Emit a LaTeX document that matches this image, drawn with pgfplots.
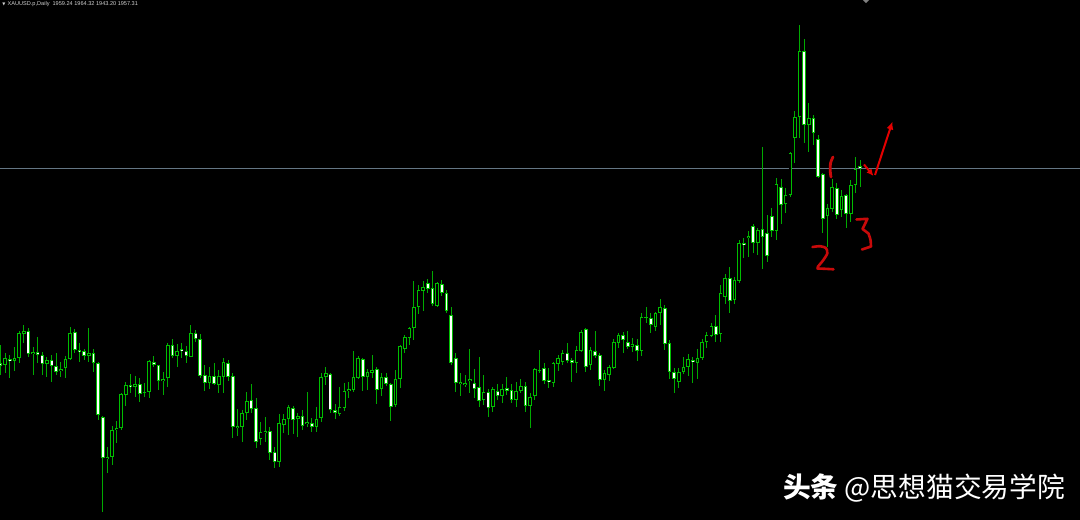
\documentclass[border=0pt]{standalone}
\usepackage{fontspec}
\usepackage{pgfplots}
\pgfplotsset{compat=1.18}
\usepackage{pgfplotstable}
\usetikzlibrary{arrows.meta}
\setmainfont{Liberation Sans}
\newfontfamily\cjk{Noto Sans CJK SC}
\newfontfamily\dejavu{DejaVu Sans}
\definecolor{wick}{RGB}{0,170,0}
\definecolor{edge}{RGB}{0,190,0}
\definecolor{bidline}{RGB}{100,118,132}
\definecolor{pen}{RGB}{200,10,10}
\definecolor{penb}{RGB}{228,0,0}
\definecolor{lbl}{RGB}{210,210,210}

% daily candles; values are screen rows (larger = lower price)
\pgfplotstableread{
i o h l c
0 363 345 375 366
1 365 353 373 358
2 359 355 378 361
3 361 347 371 358
4 358 331 363 333
5 334 325 343 331
6 331 328 357 354
7 354 347 375 352
8 352 337 363 355
9 355 352 375 364
10 364 357 377 360
11 360 355 382 366
12 366 353 375 372
13 371 362 377 369
14 368 356 378 359
15 359 327 360 333
16 332 329 353 350
17 350 343 362 352
18 351 349 360 356
19 356 328 362 353
20 353 349 372 363
21 363 362 420 415
22 417 416 512 458
23 459 447 473 457
24 457 426 465 430
25 430 421 443 428
26 428 393 430 394
27 395 382 406 385
28 385 374 393 387
29 387 376 397 384
30 384 378 402 394
31 393 383 397 392
32 392 360 398 361
33 362 356 367 365
34 365 365 390 381
35 381 372 395 379
36 378 343 387 345
37 345 339 358 356
38 356 344 367 351
39 349 343 358 351
40 351 346 363 356
41 357 325 357 333
42 333 330 342 339
43 339 334 378 376
44 375 365 391 383
45 383 367 389 376
46 376 363 385 384
47 385 370 393 376
48 377 358 393 362
49 363 360 381 377
50 376 373 438 427
51 428 409 436 426
52 427 410 442 413
53 413 392 420 401
54 400 384 413 409
55 408 398 448 442
56 439 422 445 432
57 433 417 442 431
58 431 427 460 453
59 452 447 468 462
60 462 414 467 423
61 425 414 433 419
62 419 405 435 407
63 408 406 434 420
64 419 413 437 416
65 416 410 430 426
66 424 392 427 422
67 423 418 432 427
68 427 407 432 419
69 418 373 422 377
70 377 367 385 373
71 374 373 413 410
72 410 404 419 413
73 414 387 416 407
74 408 383 411 391
75 391 382 398 389
76 390 351 392 377
77 378 356 379 358
78 359 358 391 377
79 377 369 390 372
80 373 355 378 370
81 369 367 404 390
82 389 373 396 377
83 377 373 386 384
84 384 383 421 407
85 405 370 407 379
86 379 345 388 346
87 349 335 353 337
88 338 327 345 328
89 328 281 340 307
90 307 285 314 290
91 291 281 311 287
92 283 279 293 289
93 288 271 306 304
94 306 282 307 283
95 284 280 296 293
96 293 290 313 311
97 315 307 365 363
98 358 353 392 383
99 384 373 396 382
100 385 375 387 383
101 381 349 393 379
102 383 369 398 389
103 387 357 407 401
104 400 375 405 392
105 392 389 417 408
106 407 387 412 389
107 391 384 400 396
108 396 384 403 389
109 388 377 395 391
110 390 384 403 400
111 400 382 407 391
112 391 379 393 386
113 386 382 412 406
114 406 393 428 397
115 396 368 400 369
116 371 350 373 370
117 368 363 384 381
118 380 368 388 382
119 383 362 387 363
120 364 355 371 358
121 362 350 365 353
122 353 343 363 361
123 360 358 382 363
124 363 346 373 350
125 351 330 352 332
126 329 328 372 367
127 365 347 370 350
128 351 331 358 356
129 355 353 386 380
130 380 370 391 373
131 375 365 381 367
132 368 339 369 342
133 343 333 348 335
134 335 332 353 340
135 342 331 349 347
136 347 338 352 344
137 345 339 361 351
138 351 313 356 317
139 318 307 323 317
140 318 313 333 325
141 327 312 331 313
142 313 299 325 307
143 308 305 350 344
144 343 340 379 372
145 372 368 393 379
146 382 368 388 372
147 372 357 374 367
148 367 354 376 359
149 360 357 383 362
150 363 349 379 358
151 358 339 360 342
152 342 332 348 335
153 336 323 337 326
154 326 315 342 335
155 334 285 342 293
156 297 274 304 278
157 278 267 313 301
158 300 277 304 280
159 281 240 283 243
160 243 238 258 245
161 238 231 257 236
162 226 224 253 243
163 243 228 255 230
164 229 147 269 237
165 233 215 262 256
166 216 208 237 231
167 231 178 240 184
168 187 179 224 205
169 204 188 213 195
170 195 152 197 153
171 138 111 163 117
172 117 25 138 51
173 51 39 143 125
174 125 103 152 118
175 118 115 145 133
176 139 135 178 177
177 174 173 233 219
178 216 204 247 208
179 209 179 212 187
180 188 183 219 215
181 210 190 217 196
182 195 194 228 214
183 214 180 222 185
184 185 157 193 169
185 166 160 187 168
}\candles

\begin{document}
\begin{tikzpicture}
\fill[black] (0,0) rectangle (1080bp,520bp);
\begin{axis}[
  at={(0,0)}, anchor=south west,
  scale only axis, width=1080bp, height=520bp,
  xmin=-0.1076, xmax=232.35, ymin=0, ymax=520, y dir=reverse,
  axis lines=none, ticks=none,
]
% bid line
\addplot[bidline, line width=0.9bp] coordinates {(-1,168.3) (240,168.3)};
% wicks
\addplot[wick, line width=1bp, quiver={u=0, v={\thisrow{l}-\thisrow{h}}}]
  table[x=i, y=h] {\candles};
% body outlines
\addplot[edge, line width=3.6bp, quiver={u=0, v={max(abs(\thisrow{c}-\thisrow{o}),1)}}]
  table[x=i, y expr={min(\thisrow{o},\thisrow{c})}] {\candles};
% bear bodies (white)
\addplot[white, line width=1.8bp, quiver={u=0, v={(\thisrow{c}>\thisrow{o})*max(abs(\thisrow{c}-\thisrow{o})-1.8,0)}}]
  table[x=i, y expr={min(\thisrow{o},\thisrow{c})+0.9}] {\candles};
% bull bodies (black)
\addplot[black, line width=1.8bp, quiver={u=0, v={(\thisrow{c}<\thisrow{o})*max(abs(\thisrow{c}-\thisrow{o})-1.8,0)}}]
  table[x=i, y expr={min(\thisrow{o},\thisrow{c})+0.9}] {\candles};
\end{axis}

\begin{scope}[x=1bp, y=-1bp, shift={(0,520bp)}]
% header
\node[anchor=center, inner sep=0, text=lbl, font=\dejavu\fontsize{4}{4}\selectfont] at (3.8,4.2) {▼};
\node[anchor=west, inner sep=0, text=lbl, font=\fontsize{5.6}{6}\selectfont] at (7.5,4.3) {XAUUSD.p,Daily\ \ 1959.24 1964.32 1943.20 1957.31};
\fill[gray] (863,0) -- (869,0) -- (866,3.2) -- cycle;
% hand-drawn annotations
\draw[pen, line width=2.8bp, line cap=round, line join=round]
  plot[smooth, tension=0.5] coordinates {(833,157) (830.6,163) (830.2,171) (831,177)};
\draw[pen, line width=2.6bp, line cap=round, line join=round]
  plot[smooth, tension=0.4] coordinates {(812.5,247) (820,246.2) (826,248) (827.3,253.5) (823,260.5) (818,266.5)}
  -- (817.5,268.5) -- (825,268.8) -- (833.5,269.3);
\draw[pen, line width=2.6bp, line cap=round, line join=round]
  (856.5,219.5) -- (867.5,218.8) -- (862.5,229) -- (868.5,233.5)
  plot[smooth, tension=0.5] coordinates {(868.5,233.5) (870.5,240) (871,246.5)} -- (862,249.5);
\draw[penb, line width=2bp, -{Latex[length=8bp,width=7bp]}] (875,175) -- (892.5,121.5);
\draw[penb, line width=2bp, -{Latex[length=7bp,width=6.5bp]}] (864,164.5) -- (873.5,176);
% watermark
\node[anchor=base west, inner sep=0, text=white, font=\cjk\fontsize{27.8}{28}\selectfont] at (783,497.5) {{\bfseries 头条} @思想猫交易学院};
\end{scope}
\end{tikzpicture}
\end{document}
